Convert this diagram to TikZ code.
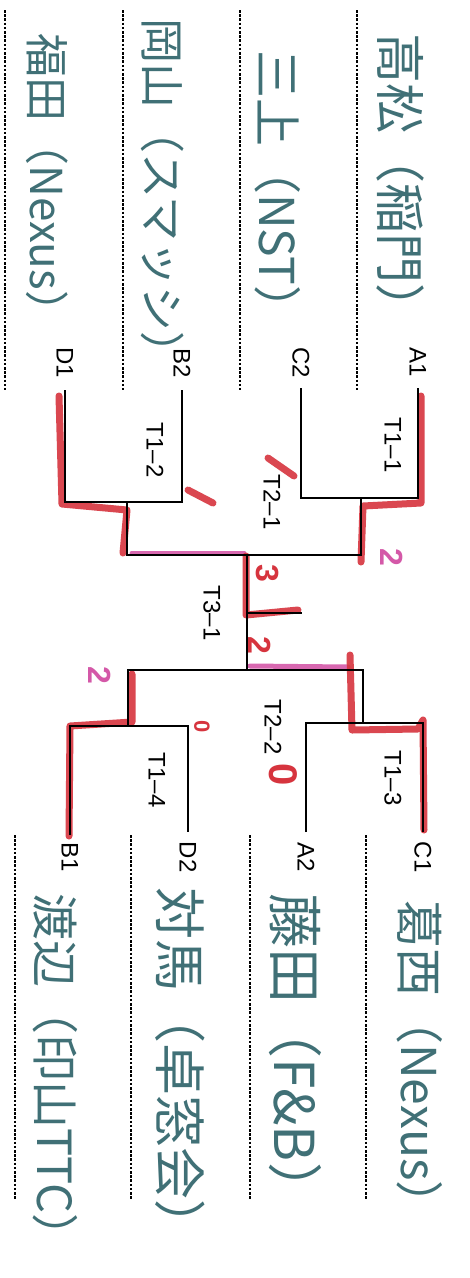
\documentclass[tikz,border=0pt]{standalone}
\usepackage{fontspec}
\setmainfont{Liberation Sans}
\newfontfamily\jp{Noto Sans CJK JP}
\definecolor{hand}{RGB}{64,112,118}
\definecolor{mred}{RGB}{214,52,62}
\definecolor{mpink}{RGB}{212,88,168}
\tikzset{
  br/.style={line width=1.8pt},
  dots/.style={line width=2.4pt, dash pattern=on 2.6pt off 1.6pt},
  lab/.style={rotate=-90, inner sep=0pt, font=\fontsize{24}{24}\selectfont},
  nm/.style={rotate=-90, anchor=west, inner sep=0pt, text=hand},
  mk/.style={draw=mred, line width=7pt, line cap=round, line join=round, opacity=.9},
  pk/.style={draw=mpink, line width=5pt, line cap=round, opacity=.9},
  num/.style={rotate=-90, inner sep=0pt, font=\bfseries\fontsize{32}{32}\selectfont},
}
\begin{document}
\begin{tikzpicture}[x=1pt,y=-1pt]
\useasboundingbox (0,0) rectangle (469,1278);
\fill[white] (0,0) rectangle (469,1278);

% dotted rules
\foreach \x/\n in {357/u1,240/u2,123/u3,5/u4}{
  \coordinate (\n t) at (\x,10); \coordinate (\n b) at (\x,390);
  \draw[dots] (\n t) -- (\n b);}
\foreach \x/\n in {366/l1,250/l2,131/l3,15/l4}{
  \coordinate (\n t) at (\x,835); \coordinate (\n b) at (\x,1200);
  \draw[dots] (\n t) -- (\n b);}

% names
\node[nm, font=\jp\fontsize{50}{50}\selectfont] (nA1) at (400,33) {高松（稲門）};
\node[nm, font=\jp\fontsize{48}{48}\selectfont] (nC2) at (278,50) {三上（NST）};
\node[nm, font=\jp\fontsize{45}{45}\selectfont] (nB2) at (163,18) {岡山（スマッシ）};
\node[nm, font=\jp\fontsize{44}{44}\selectfont] (nD1) at (47,33) {福田（Nexus）};
\node[nm, font=\jp\fontsize{48}{48}\selectfont] (nC1) at (420,900) {葛西（Nexus）};
\node[nm, font=\jp\fontsize{55}{55}\selectfont] (nA2) at (295,893) {藤田（F\&B）};
\node[nm, font=\jp\fontsize{52}{52}\selectfont] (nD2) at (180,887) {対馬（卓窓会）};
\node[nm, font=\jp\fontsize{47}{47}\selectfont] (nB1) at (55,893) {渡辺（印山TTC）};

% player labels
\node[lab] (A1) at (418,362) {A1};
\node[lab] (C2) at (301,363) {C2};
\node[lab] (B2) at (182,363) {B2};
\node[lab] (D1) at (65,363) {D1};
\node[lab] (C1) at (423,857) {C1};
\node[lab] (A2) at (306,857) {A2};
\node[lab] (D2) at (188,857) {D2};
\node[lab] (B1) at (70,857) {B1};

% junctions
\coordinate (j11) at (361,498);
\coordinate (j12) at (127,502);
\coordinate (j21) at (247,555);
\coordinate (j22) at (247,670);
\coordinate (j13) at (363,723);
\coordinate (j14) at (128,726);
\coordinate (fin) at (302,613);

% red / pink marker
\draw[mk] (421,396) -- (421,503) -- (363,506) -- (361,562);
\draw[mk] (59,396) -- (62,504) -- (127,510) -- (123,553);
\draw[pk] (132,553) -- (244,553);
\draw[mk] (246,556) -- (246,615) -- (298,610);
\draw[pk] (250,666) -- (348,667);
\draw[mk] (350,655) -- (352,730) -- (418,729) -- (423,720) -- (424,830);
\draw[mk] (132,674) -- (132,722) -- (70,726) -- (69,836);
\draw[mk] (188,490) -- (213,503);
\draw[mk] (268,458) -- (294,476);
\node[num, text=mred] (s3) at (267,573) {3};
\node[num, text=mred] (s2) at (260,645) {2};
\node[num, text=mpink] (p1) at (392,557) {2};
\node[num, text=mpink] (p2) at (100,675) {2};
\node[num, text=mred, font=\bfseries\fontsize{22}{22}\selectfont] (z1) at (202,727) {0};
\node[num, text=mred, font=\bfseries\fontsize{40}{40}\selectfont] (z2) at (283,775) {0};

% bracket
\draw[br] (A1 |- 0,388) |- (j11) -| (C2 |- 0,388);
\draw[br] (D1 |- 0,390) |- (j12) -| (B2 |- 0,390);
\draw[br] (j11) |- (j21) -| (j12);
\draw[br] (j21) -- (j22);
\draw[br] (fin -| j21) -- (fin);
\draw[br] (j13) |- (j22) -| (j14);
\draw[br] (A2 |- 0,832) |- (j13) -| (C1 |- 0,832);
\draw[br] (B1 |- 0,835) |- (j14) -| (D2 |- 0,832);

% match labels
\node[lab] (t11) at (393,445) {T1–1};
\node[lab] (t12) at (155,450) {T1–2};
\node[lab] (t21) at (272,502) {T2–1};
\node[lab] (t31) at (212,613) {T3–1};
\node[lab] (t22) at (273,727) {T2–2};
\node[lab] (t13) at (393,778) {T1–3};
\node[lab] (t14) at (157,780) {T1–4};
\end{tikzpicture}
\end{document}
